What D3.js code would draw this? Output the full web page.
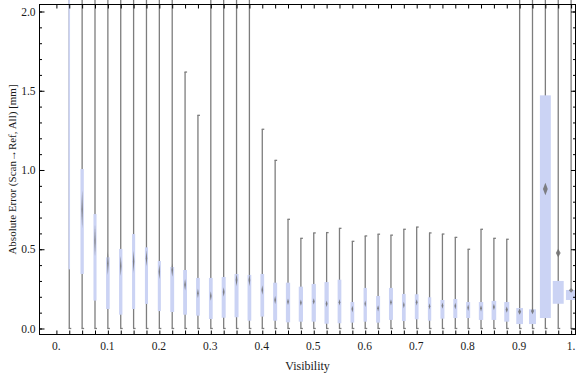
<!DOCTYPE html>
<html>
<head>
<meta charset="utf-8">
<script src="https://cdn.jsdelivr.net/npm/d3@7"></script>
<style>
  html, body { margin: 0; padding: 0; background: #fff; }
  svg { display: block; }
  text { font-family: "Liberation Serif", "DejaVu Serif", serif; fill: #1a1a1a; }
</style>
</head>
<body>
<div id="chart"></div>
<script>
// visibility bins (box centres)
const visibility = [0.025, 0.05, 0.075, 0.1, 0.125, 0.15, 0.175, 0.2, 0.225, 0.25,
    0.275, 0.3, 0.325, 0.35, 0.375, 0.4, 0.425, 0.45, 0.475, 0.5,
    0.525, 0.55, 0.575, 0.6, 0.625, 0.65, 0.675, 0.7, 0.725, 0.75,
    0.775, 0.8, 0.825, 0.85, 0.875, 0.9, 0.925, 0.95, 0.975, 1.0];

// whisker ends [mm]
const whiskerMin = [0, 0, 0, 0, 0, 0, 0, 0, 0, 0,
    0, 0, 0, 0, 0, 0, 0, 0, 0, 0,
    0, 0, 0, 0, 0, 0, 0, 0, 0, 0,
    0, 0, 0, 0, 0, 0, 0, 0, 0, 0];
const whiskerMax = [3.0, 3.0, 3.0, 3.0, 3.0, 3.0, 3.0, 3.0, 3.0, 1.618,
    1.345, 3.0, 3.0, 3.0, 3.0, 1.257, 1.061, 0.689, 0.569, 0.603,
    0.605, 0.632, 0.550, 0.584, 0.595, 0.589, 0.626, 0.640, 0.603, 0.596,
    0.575, 0.500, 0.626, 0.569, 0.563, 3.0, 3.0, 3.0, 3.0, 3.0];

// quartiles [mm]
const q1 = [0.373, 0.344, 0.176, 0.123, 0.087, 0.123, 0.155, 0.110, 0.104, 0.087,
    0.081, 0.060, 0.068, 0.071, 0.049, 0.075, 0.049, 0.039, 0.043, 0.043,
    0.030, 0.033, 0.037, 0.043, 0.037, 0.054, 0.047, 0.058, 0.049, 0.062,
    0.066, 0.066, 0.054, 0.054, 0.043, 0.028, 0.028, 0.066, 0.156, 0.180];
const q3 = [2.6, 1.006, 0.722, 0.449, 0.502, 0.596, 0.512, 0.426, 0.388, 0.369,
    0.319, 0.319, 0.325, 0.344, 0.338, 0.344, 0.289, 0.289, 0.264, 0.281,
    0.293, 0.308, 0.167, 0.256, 0.205, 0.256, 0.218, 0.216, 0.197, 0.180,
    0.186, 0.167, 0.167, 0.174, 0.167, 0.129, 0.121, 1.471, 0.300, 0.243];

// mean and its confidence half-width (diamond) [mm]; first bin's mean is off the chart
const mean = [2.8, 0.752, 0.554, 0.411, 0.394, 0.422, 0.443, 0.358, 0.369, 0.276,
    0.222, 0.205, 0.230, 0.306, 0.306, 0.243, 0.180, 0.169, 0.163, 0.171,
    0.156, 0.165, 0.123, 0.156, 0.127, 0.165, 0.148, 0.165, 0.140, 0.144,
    0.142, 0.131, 0.127, 0.136, 0.119, 0.106, 0.110, 0.880, 0.476, 0.241];
const meanCI = [0.12, 0.12, 0.10, 0.074, 0.063, 0.07, 0.05, 0.047, 0.042, 0.037,
    0.03, 0.03, 0.03, 0.04, 0.04, 0.03, 0.025, 0.02, 0.02, 0.02,
    0.02, 0.02, 0.02, 0.02, 0.02, 0.02, 0.02, 0.02, 0.02, 0.02,
    0.02, 0.02, 0.02, 0.02, 0.02, 0.02, 0.02, 0.04, 0.027, 0.015];

// relative box width (share of bin step)
const boxShare = [0.12, 0.26, 0.24, 0.28, 0.26, 0.24, 0.24, 0.24, 0.3, 0.3,
    0.29, 0.29, 0.31, 0.31, 0.29, 0.29, 0.31, 0.33, 0.33, 0.33,
    0.33, 0.29, 0.29, 0.26, 0.31, 0.31, 0.29, 0.29, 0.26, 0.31,
    0.31, 0.31, 0.34, 0.36, 0.39, 0.52, 0.54, 0.85, 0.85, 0.80];

const xTickLabels = ['0.', '0.1', '0.2', '0.3', '0.4', '0.5', '0.6', '0.7', '0.8', '0.9', '1.'];
const yTickLabels = ['0.0', '0.5', '1.0', '1.5', '2.0'];

const width = 576;
const height = 375;
const frame = { left: 39.5, right: 575.5, top: 4.5, bottom: 334.5 };

const svg = d3.select('#chart')
    .append('svg')
    .attr('width', width)
    .attr('height', height);

const defs = svg.append('defs');
defs.append('filter')
    .attr('id', 'soft')
    .attr('x', '-100%').attr('y', '-50%')
    .attr('width', '300%').attr('height', '200%')
    .append('feGaussianBlur')
    .attr('stdDeviation', 0.55);

const x = d3.scaleLinear()
    .domain([-0.03283, 1.00855])
    .range([frame.left, frame.right]);

const y = d3.scaleLinear()
    .domain([-0.0379, 2.0442])
    .range([frame.bottom, frame.top]);

const step = x(0.025) - x(0);

const data = visibility.map((v, i) => ({
    v, lo: whiskerMin[i], hi: whiskerMax[i], q1: q1[i], q3: q3[i],
    mean: mean[i], ci: meanCI[i], w: boxShare[i] * step,
}));

// whiskers
const whisk = svg.append('g')
    .attr('stroke', '#7d7d7d')
    .attr('stroke-width', 1.3)
    .attr('fill', 'none');

whisk.selectAll('line.w')
    .data(data)
    .join('line')
    .attr('class', 'w')
    .attr('x1', d => x(d.v)).attr('x2', d => x(d.v))
    .attr('y1', d => y(d.lo)).attr('y2', d => y(d.hi));

whisk.selectAll('line.capTop')
    .data(data)
    .join('line')
    .attr('class', 'capTop')
    .attr('x1', d => x(d.v) - 0.6).attr('x2', d => x(d.v) + 2)
    .attr('y1', d => y(d.hi)).attr('y2', d => y(d.hi));

whisk.selectAll('line.capBot')
    .data(data)
    .join('line')
    .attr('class', 'capBot')
    .attr('x1', d => x(d.v) - 0.6).attr('x2', d => x(d.v) + 2)
    .attr('y1', d => y(d.lo)).attr('y2', d => y(d.lo));

// boxes
svg.append('g')
    .attr('fill', '#cbd3f4')
    .selectAll('rect')
    .data(data)
    .join('rect')
    .attr('x', d => x(d.v) - d.w / 2)
    .attr('width', d => d.w)
    .attr('y', d => y(d.q3))
    .attr('height', d => y(d.q1) - y(d.q3));

// mean diamonds
svg.append('g')
    .attr('fill', '#6e6e6e')
    .attr('filter', 'url(#soft)')
    .selectAll('path')
    .data(data)
    .join('path')
    .attr('opacity', 0.85)
    .attr('d', d => {
        const cx = x(d.v), cy = y(d.mean);
        const hw = Math.max(d.w * 0.22, 0.7);
        const hh = y(d.mean - d.ci) - cy;
        return `M${cx},${cy - hh}L${cx + hw},${cy}L${cx},${cy + hh}L${cx - hw},${cy}Z`;
    });

// frame
svg.append('rect')
    .attr('x', frame.left).attr('y', frame.top)
    .attr('width', frame.right - frame.left)
    .attr('height', frame.bottom - frame.top)
    .attr('fill', 'none')
    .attr('stroke', '#000')
    .attr('stroke-width', 1);

const xTicks = visibility.slice();
xTicks.unshift(0);
const yMinor = d3.range(0, 21).map(i => i / 10);
const yMajor = yTickLabels.map(Number);

const styleAxis = g => {
    g.select('.domain').remove();
    g.selectAll('.tick line').attr('stroke', '#000');
};

// bottom axis
svg.append('g')
    .attr('transform', `translate(0,${frame.bottom})`)
    .call(d3.axisBottom(x).tickValues(xTicks).tickSize(-4).tickFormat(''))
    .call(styleAxis);

svg.append('g')
    .selectAll('text')
    .data(xTickLabels)
    .join('text')
    .attr('x', (d, i) => x(i / 10) - (d.endsWith('.') ? 0 : 0.5))
    .attr('y', 350)
    .attr('text-anchor', 'middle')
    .attr('font-size', 11.5)
    .text(d => d);

// top axis
svg.append('g')
    .attr('transform', `translate(0,${frame.top})`)
    .call(d3.axisTop(x).tickValues(xTicks).tickSize(-4).tickFormat(''))
    .call(styleAxis);

// left axis
svg.append('g')
    .attr('transform', `translate(${frame.left},0)`)
    .call(d3.axisLeft(y).tickValues(yMinor).tickSize(-2.5).tickFormat(''))
    .call(styleAxis);

svg.append('g')
    .attr('transform', `translate(${frame.left},0)`)
    .call(d3.axisLeft(y).tickValues(yMajor).tickSize(-5).tickPadding(8)
        .tickFormat((d, i) => yTickLabels[i]))
    .call(styleAxis)
    .call(g => g.selectAll('.tick text')
        .attr('font-size', 11.5)
        .attr('font-family', '"Liberation Serif", serif')
        .attr('fill', '#1a1a1a')
        .attr('x', -4));

// right axis
svg.append('g')
    .attr('transform', `translate(${frame.right},0)`)
    .call(d3.axisRight(y).tickValues(yMinor).tickSize(-2.5).tickFormat(''))
    .call(styleAxis);

svg.append('g')
    .attr('transform', `translate(${frame.right},0)`)
    .call(d3.axisRight(y).tickValues(yMajor).tickSize(-4.5).tickFormat(''))
    .call(styleAxis);

// axis titles
svg.append('text')
    .attr('x', (frame.left + frame.right) / 2)
    .attr('y', 370)
    .attr('text-anchor', 'middle')
    .attr('font-size', 12)
    .text('Visibility');

svg.append('text')
    .attr('transform', `translate(12,${(frame.top + frame.bottom) / 2}) rotate(-90)`)
    .attr('text-anchor', 'middle')
    .attr('dy', '0.35em')
    .attr('font-size', 11)
    .text('Absolute Error (Scan\u2192Ref, All) [mm]');
</script>
</body>
</html>
